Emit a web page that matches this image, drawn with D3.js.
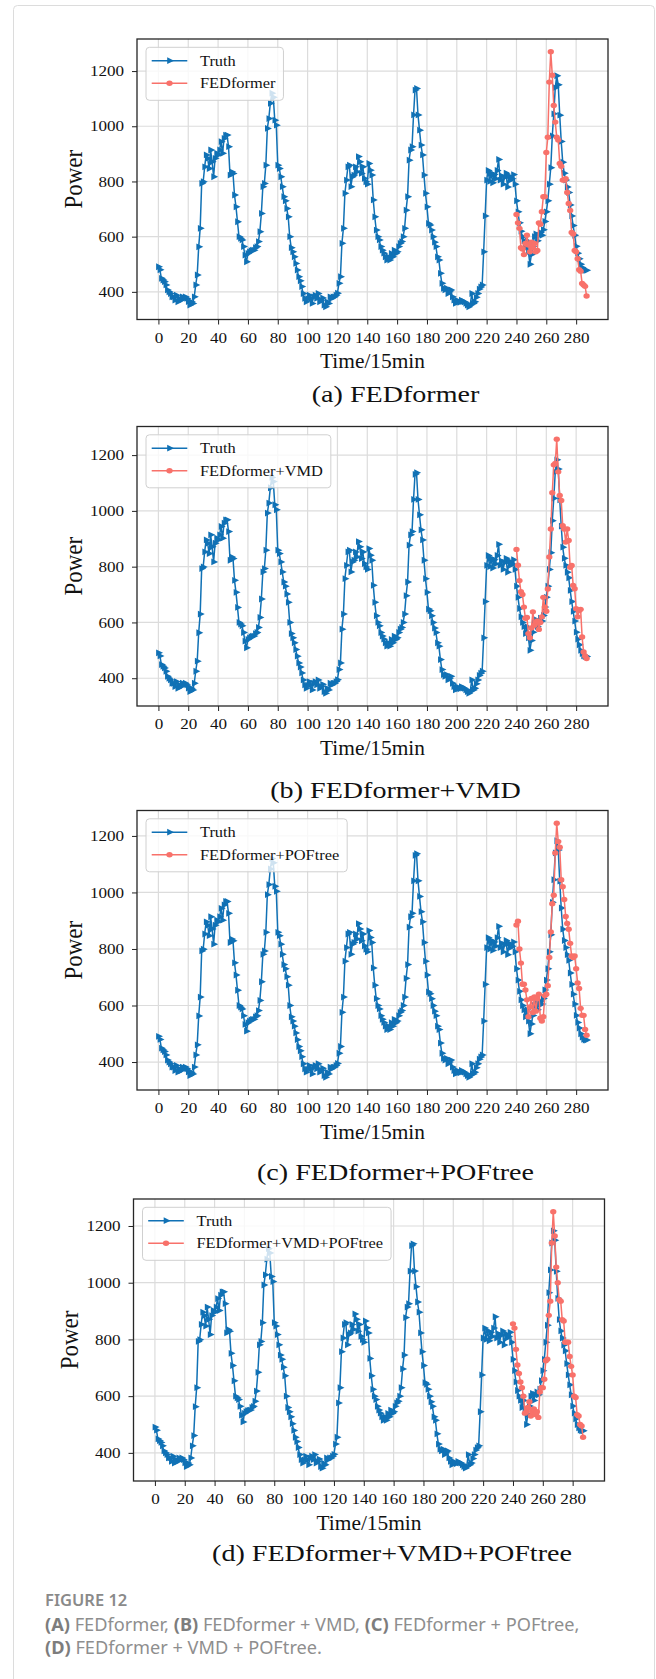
<!DOCTYPE html>
<html>
<head>
<meta charset="utf-8">
<script src="https://cdn.jsdelivr.net/npm/d3@7"></script>
<style>
  body { margin: 0; background: #fff; }
  svg { display: block; }
</style>
</head>
<body>
<svg id="fig" width="656" height="1679"></svg>
<script>
// ---- data ----
// ground truth, one value per 15 min step (0..287)
var truth = [
  491, 480, 449, 443, 437, 425, 407, 400, 394, 382,
  382, 370, 388, 364, 376, 370, 382, 376, 382, 376,
  365, 352, 364, 358, 382, 425, 461, 563, 630, 793,
  799, 853, 896, 884, 847, 914, 871, 817, 884, 902,
  896, 914, 944, 902, 956, 968, 968, 926, 823, 835,
  829, 751, 708, 654, 600, 594, 588, 564, 533, 509,
  539, 545, 549, 551, 551, 560, 564, 582, 618, 684,
  781, 793, 859, 992, 1028, 1083, 1120, 1105, 1022, 1004,
  859, 847, 817, 781, 745, 730, 702, 672, 600, 560,
  545, 527, 503, 479, 455, 440, 419, 394, 376, 364,
  375, 388, 376, 358, 382, 388, 376, 394, 364, 370,
  378, 352, 346, 364, 358, 382, 376, 382, 382, 388,
  395, 431, 455, 576, 630, 757, 805, 853, 859, 781,
  817, 823, 853, 835, 890, 871, 829, 853, 811, 799,
  790, 865, 841, 823, 733, 672, 624, 600, 588, 564,
  551, 540, 527, 515, 527, 515, 539, 527, 551, 539,
  545, 564, 576, 582, 600, 630, 696, 745, 877, 914,
  926, 1041, 1131, 1137, 1041, 986, 932, 896, 823, 757,
  708, 648, 642, 624, 600, 580, 564, 527, 515, 467,
  431, 413, 407, 413, 394, 400, 407, 382, 370, 358,
  370, 364, 362, 370, 365, 364, 358, 352, 346, 352,
  394, 358, 364, 380, 394, 410, 418, 425, 545, 675,
  805, 840, 800, 830, 795, 825, 810, 840, 880, 805,
  820, 790, 815, 830, 780, 820, 805, 810, 825, 790,
  730, 690, 650, 620, 600, 585, 560, 585, 545, 500,
  535, 565, 600, 610, 585, 605, 615, 605, 625, 655,
  690, 730, 790, 850, 965, 1045, 1140, 1183, 1150, 1040,
  945, 870, 830, 805, 780, 760, 715, 675, 640, 605,
  565, 540, 520, 500, 488, 480, 478, 478
];

// forecasts for the last 48 steps (240..287)
var predFed = [
  680, 650, 630, 560, 555, 535, 575, 605, 570, 545,
  580, 560, 575, 545, 550, 650, 645, 690, 745, 745,
  905, 960, 1160, 1270, 1185, 1075, 1015, 960, 950, 865,
  855, 805, 805, 810, 760, 720, 695, 615, 610, 550,
  545, 520, 480, 475, 430, 425, 420, 385
];
var predFedVmd = [
  862, 805, 750, 710, 700, 655, 615, 618, 560, 545,
  580, 638, 590, 600, 605, 575, 600, 620, 690, 655,
  640, 720, 835, 935, 1065, 1165, 1170, 1257, 1140, 1055,
  1037, 947, 935, 888, 935, 894, 798, 804, 733, 721,
  649, 620, 643, 647, 548, 494, 480, 471
];
var predFedPof = [
  885, 898, 800, 750, 675, 675, 655, 620, 560, 595,
  625, 575, 630, 580, 625, 640, 555, 545, 560, 635,
  640, 670, 770, 860, 960, 990, 1140, 1245, 1180, 1160,
  1045, 1020, 975, 915, 890, 870, 820, 775, 770, 775,
  730, 680, 660, 590, 565, 565, 515, 495
];
var predFedVmdPof = [
  855, 840, 765, 710, 680, 650, 630, 600, 540, 545,
  560, 580, 530, 545, 555, 535, 545, 525, 615, 630,
  630, 660, 725, 730, 885, 935, 1140, 1250, 1165, 1055,
  1000, 940, 935, 870, 865, 790, 790, 790, 740, 705,
  675, 600, 595, 535, 530, 500, 495, 455
];

var xTicks = [0, 20, 40, 60, 80, 100, 120, 140, 160, 180, 200, 220, 240, 260, 280];
var yTicks = [400, 600, 800, 1000, 1200];
var truthLabel = "Truth";
var predLabels = ["FEDformer", "FEDformer+VMD", "FEDformer+POFtree", "FEDformer+VMD+POFtree"];
var titles = ["(a) FEDformer", "(b) FEDformer+VMD", "(c) FEDformer+POFtree", "(d) FEDformer+VMD+POFtree"];
var predSeries = [predFed, predFedVmd, predFedPof, predFedVmdPof];

// ---- layout ----
var STRETCH = 1.17;   // the source figure is stretched horizontally
var serif = "'Liberation Serif', 'Times New Roman', 'DejaVu Serif', serif";
var blue = "#1071b5", red = "#f8716a";
var layout = [
  {left: 137,   right: 608,   top: 39,   bottom: 319.5, titleY: 401.7},
  {left: 137,   right: 608,   top: 426.5, bottom: 706,  titleY: 798},
  {left: 137,   right: 608,   top: 810.5, bottom: 1090, titleY: 1180},
  {left: 133.5, right: 604.5, top: 1199, bottom: 1481,  titleY: 1561}
];

var svg = d3.select("#fig");

// page border
svg.append("rect")
  .attr("x", 13.5).attr("y", 5.5)
  .attr("width", 641).attr("height", 1700)
  .attr("rx", 4)
  .attr("fill", "none")
  .attr("stroke", "#dcdcdc");

layout.forEach(function(p, k) {
  var pred = predSeries[k];
  var start = truth.length - pred.length;
  var all = truth.concat(pred);
  var lo = d3.min(all), hi = d3.max(all), pad = (hi - lo) * 0.05;
  var n = truth.length - 1, xpad = n * 0.05;

  var x = d3.scaleLinear().domain([-xpad, n + xpad]).range([p.left, p.right]);
  var y = d3.scaleLinear().domain([lo - pad, hi + pad]).range([p.bottom, p.top]);

  var g = svg.append("g").attr("class", "panel");

  // grid
  g.selectAll(".vg").data(xTicks).enter().append("line")
    .attr("x1", d => x(d)).attr("x2", d => x(d))
    .attr("y1", p.top).attr("y2", p.bottom)
    .attr("stroke", "#dcdcdc").attr("stroke-width", 1.2);
  g.selectAll(".hg").data(yTicks).enter().append("line")
    .attr("x1", p.left).attr("x2", p.right)
    .attr("y1", d => y(d)).attr("y2", d => y(d))
    .attr("stroke", "#dcdcdc").attr("stroke-width", 1.2);

  // axes
  var xa = g.append("g")
    .attr("transform", "translate(0," + p.bottom + ")")
    .call(d3.axisBottom(x).tickValues(xTicks).tickFormat(d3.format("d")).tickSize(5).tickPadding(8));
  var ya = g.append("g")
    .attr("transform", "translate(" + p.left + ",0)")
    .call(d3.axisLeft(y).tickValues(yTicks).tickFormat(d3.format("d")).tickSize(5).tickPadding(6));
  [xa, ya].forEach(function(a) {
    a.select(".domain").remove();
    a.selectAll(".tick line").attr("stroke", "#222").attr("stroke-width", 1);
    a.selectAll(".tick text")
      .attr("fill", "#111")
      .style("font-family", serif)
      .style("font-size", "14.6px")
      .attr("transform", "scale(" + STRETCH + ",1)");
  });

  // truth line + markers
  var line = d3.line().x((d, i) => x(i)).y(d => y(d));
  g.append("path").datum(truth)
    .attr("d", line)
    .attr("fill", "none").attr("stroke", blue)
    .attr("stroke-width", 1.5).attr("stroke-linejoin", "round");
  var tri = d3.symbol(d3.symbolTriangle, 20);
  g.selectAll(".tm").data(truth).enter().append("path")
    .attr("d", tri)
    .attr("fill", blue)
    .attr("transform", (d, i) => "translate(" + x(i) + "," + y(d) + ") scale(" + STRETCH + ",1) rotate(90)");

  // forecast line + markers
  var pline = d3.line().x((d, i) => x(start + i)).y(d => y(d));
  g.append("path").datum(pred)
    .attr("d", pline)
    .attr("fill", "none").attr("stroke", red)
    .attr("stroke-width", 1.5).attr("stroke-linejoin", "round");
  g.selectAll(".pm").data(pred).enter().append("ellipse")
    .attr("cx", (d, i) => x(start + i)).attr("cy", d => y(d))
    .attr("rx", 2.7 * STRETCH).attr("ry", 2.7)
    .attr("fill", red);

  // frame
  g.append("rect")
    .attr("x", p.left).attr("y", p.top)
    .attr("width", p.right - p.left).attr("height", p.bottom - p.top)
    .attr("fill", "none").attr("stroke", "#262626").attr("stroke-width", 1.3);

  // legend
  var lg = g.append("g").attr("transform", "translate(" + (p.left + 9) + "," + (p.top + 8.3) + ")");
  var box = lg.append("rect")
    .attr("height", 53).attr("rx", 3.5)
    .attr("fill", "#fff").attr("fill-opacity", 0.8)
    .attr("stroke", "#d0d0d0");
  var rows = [
    {label: truthLabel, color: blue, mark: "tri"},
    {label: predLabels[k], color: red, mark: "dot"}
  ];
  var widths = [];
  rows.forEach(function(r, j) {
    var ry = 13.4 + j * 22.6;
    lg.append("line")
      .attr("x1", 5.7).attr("x2", 41.3).attr("y1", ry).attr("y2", ry)
      .attr("stroke", r.color).attr("stroke-width", 1.5);
    if (r.mark === "tri") {
      lg.append("path").attr("d", tri).attr("fill", r.color)
        .attr("transform", "translate(23.5," + ry + ") scale(" + STRETCH + ",1) rotate(90)");
    } else {
      lg.append("ellipse").attr("cx", 23.5).attr("cy", ry)
        .attr("rx", 2.7 * STRETCH).attr("ry", 2.7).attr("fill", r.color);
    }
    var t = lg.append("text")
      .attr("transform", "translate(54," + ry + ") scale(" + STRETCH + ",1)")
      .attr("dy", "0.35em")
      .style("font-family", serif).style("font-size", "14px")
      .attr("fill", "#111")
      .text(r.label);
    widths.push(t.node().getComputedTextLength() * STRETCH);
  });
  box.attr("width", 54 + d3.max(widths) + 8);

  // axis labels
  var cx = (p.left + p.right) / 2, cy = (p.top + p.bottom) / 2;
  g.append("text")
    .attr("transform", "translate(" + cx + "," + (p.bottom + 48.5) + ") scale(1.07,1)")
    .attr("text-anchor", "middle")
    .style("font-family", serif).style("font-size", "20px")
    .attr("fill", "#111")
    .text("Time/15min");
  g.append("text")
    .attr("transform", "translate(" + (p.left - 55.5) + "," + cy + ") scale(1.07,1) rotate(-90)")
    .attr("text-anchor", "middle")
    .style("font-family", serif).style("font-size", "23px")
    .attr("fill", "#111")
    .text("Power");

  // sub-figure title
  g.append("text")
    .attr("transform", "translate(" + (cx + 23) + "," + p.titleY + ") scale(" + STRETCH + ",1)")
    .attr("text-anchor", "middle")
    .style("font-family", serif).style("font-size", "24px")
    .attr("fill", "#111")
    .text(titles[k]);
});

// caption
var sans = "'Noto Sans', 'Open Sans', sans-serif";
svg.append("text")
  .attr("x", 45).attr("y", 1606)
  .style("font-family", sans).style("font-size", "16.5px").style("font-weight", 600)
  .attr("fill", "#8a8a8a")
  .text("FIGURE 12");
var capLines = [
  [["(A)", true], [" FEDformer, ", false], ["(B)", true], [" FEDformer + VMD, ", false], ["(C)", true], [" FEDformer + POFtree,", false]],
  [["(D)", true], [" FEDformer + VMD + POFtree.", false]]
];
capLines.forEach(function(parts, j) {
  var t = svg.append("text")
    .attr("x", 45).attr("y", 1630.5 + j * 23.4)
    .style("font-family", sans).style("font-size", "18.2px")
    .attr("fill", "#8e8e8e");
  parts.forEach(function(pt) {
    t.append("tspan")
      .style("font-weight", pt[1] ? 700 : 400)
      .attr("fill", pt[1] ? "#7d7d7d" : "#8e8e8e")
      .text(pt[0]);
  });
});
</script>
</body>
</html>
